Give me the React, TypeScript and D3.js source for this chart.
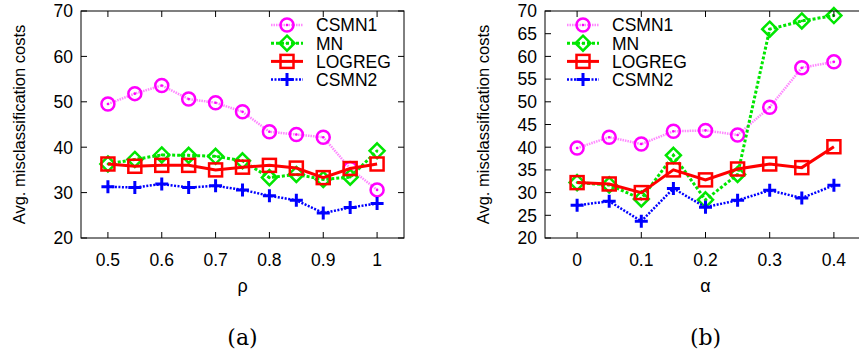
import React from 'react';
import * as d3 from 'd3';

// panel (a): rho sweep
const rhoValues = [0.5, 0.55, 0.6, 0.65, 0.7, 0.75, 0.8, 0.85, 0.9, 0.95, 1.0];
const rhoCSMN1 = [49.5, 51.8, 53.6, 50.6, 49.8, 47.8, 43.4, 42.8, 42.2, 35.3, 30.6];
const rhoMN = [36.3, 37.3, 38.3, 38.2, 38.0, 37.0, 33.3, 34.0, 32.9, 33.4, 39.2];
const rhoLOGREG = [36.3, 35.8, 36.0, 36.0, 35.0, 35.6, 36.0, 35.4, 33.3, 35.3, 36.3];
const rhoCSMN2 = [31.3, 31.1, 31.9, 31.1, 31.5, 30.6, 29.3, 28.3, 25.5, 26.7, 27.6];
const rhoTicks = [0.5, 0.6, 0.7, 0.8, 0.9, 1];

// panel (b): alpha sweep
const alphaValues = [0, 0.05, 0.1, 0.15, 0.2, 0.25, 0.3, 0.35, 0.4];
const alphaCSMN1 = [39.8, 42.2, 40.7, 43.5, 43.7, 42.7, 48.8, 57.5, 58.8];
const alphaMN = [32.2, 31.7, 28.6, 38.2, 28.4, 34.0, 66.0, 67.8, 69.0];
const alphaLOGREG = [32.2, 31.9, 30.0, 35.0, 32.8, 35.2, 36.3, 35.5, 40.1];
const alphaCSMN2 = [27.2, 28.1, 23.7, 30.9, 26.8, 28.3, 30.5, 28.8, 31.6];
const alphaTicks = [0, 0.1, 0.2, 0.3, 0.4];

const seriesNames = ['CSMN1', 'MN', 'LOGREG', 'CSMN2'];

const styles: Record<string, any> = {
  CSMN1: { color: '#ff00ff', line: '#ff88ff', width: 2.5, dash: '1.5,1', marker: 'circle' },
  MN: { color: '#00e600', line: '#00e600', width: 3, dash: '3,2', marker: 'diamond' },
  LOGREG: { color: '#ff0000', line: '#ff0000', width: 3, dash: null, marker: 'square' },
  CSMN2: { color: '#0000ff', line: '#0000ff', width: 2.5, dash: '2,1.5', marker: 'plus' },
};

const FONT = '"Liberation Sans", Arial, sans-serif';

function Marker({ kind, x, y, color }: any) {
  if (kind === 'circle') {
    return (
      <g>
        <circle cx={x} cy={y} r={6.5} fill="none" stroke={color} strokeWidth={2.5} />
        <circle cx={x} cy={y} r={1.3} fill={color} />
      </g>
    );
  }
  if (kind === 'diamond') {
    const s = 7.5;
    return (
      <g>
        <path d={`M${x},${y - s}L${x + s},${y}L${x},${y + s}L${x - s},${y}Z`} fill="none" stroke={color} strokeWidth={2.5} />
        <circle cx={x} cy={y} r={1.3} fill={color} />
      </g>
    );
  }
  if (kind === 'square') {
    const s = 6.5;
    return <rect x={x - s} y={y - s} width={2 * s} height={2 * s} fill="none" stroke={color} strokeWidth={2.5} />;
  }
  const s = 6.5;
  return <path d={`M${x - s},${y}H${x + s}M${x},${y - s}V${y + s}`} stroke={color} strokeWidth={3} />;
}

function Panel({ left, right, top, bottom, xDomain, xs, data, xTicks, yTicks, xLabel, caption, legendX, yLabelX }: any) {
  const x = d3.scaleLinear().domain(xDomain).range([left, right]);
  const y = d3.scaleLinear().domain([20, 70]).range([bottom, top]);
  const tick = 6;
  return (
    <g>
      {seriesNames.map((name, si) => {
        const st = styles[name];
        const vals: number[] = data[si];
        const pts = vals.map((v, i) => [x(xs[i]), y(v)] as [number, number]);
        const line = d3.line()(pts) || '';
        return (
          <g key={name}>
            <path d={line} fill="none" stroke={st.line} strokeWidth={st.width} strokeDasharray={st.dash || undefined} />
            {pts.map((p, i) => (
              <Marker key={i} kind={st.marker} x={p[0]} y={p[1]} color={st.color} />
            ))}
          </g>
        );
      })}
      <rect x={left} y={top} width={right - left} height={bottom - top} fill="none" stroke="#000" strokeWidth={1} />
      {yTicks.map((t: number) => (
        <g key={'y' + t}>
          <line x1={left} x2={left + tick} y1={y(t)} y2={y(t)} stroke="#000" />
          <line x1={right} x2={right - tick} y1={y(t)} y2={y(t)} stroke="#000" />
          <text x={left - 8} y={y(t)} dy="0.36em" textAnchor="end" fontFamily={FONT} fontSize={17.5} fill="#000">
            {t}
          </text>
        </g>
      ))}
      {xTicks.map((t: number) => (
        <g key={'x' + t}>
          <line x1={x(t)} x2={x(t)} y1={bottom} y2={bottom - tick} stroke="#000" />
          <line x1={x(t)} x2={x(t)} y1={top} y2={top + tick} stroke="#000" />
          <text x={x(t)} y={bottom + 28} textAnchor="middle" fontFamily={FONT} fontSize={17.5} fill="#000">
            {t}
          </text>
        </g>
      ))}
      <text
        transform={`translate(${yLabelX},${(top + bottom) / 2}) rotate(-90)`}
        textAnchor="middle"
        dy="0.36em"
        fontFamily={FONT}
        fontSize={16.5}
        fill="#000"
      >
        Avg. misclassification costs
      </text>
      <text x={x((xDomain[0] + xDomain[1]) / 2)} y={bottom + 54} textAnchor="middle" fontFamily={FONT} fontSize={18} fill="#000">
        {xLabel}
      </text>
      <text x={x((xDomain[0] + xDomain[1]) / 2)} y={345} textAnchor="middle" fontFamily='"DejaVu Serif", serif' fontSize={22} fill="#000">
        {caption}
      </text>
      {seriesNames.map((name, i) => {
        const st = styles[name];
        const ly = 25 + i * 18.2;
        return (
          <g key={'lg' + name}>
            <line x1={legendX} x2={legendX + 32} y1={ly} y2={ly} stroke={st.line} strokeWidth={st.width} strokeDasharray={st.dash || undefined} />
            <Marker kind={st.marker} x={legendX + 16} y={ly} color={st.color} />
            <text x={legendX + 45} y={ly} dy="0.36em" fontFamily={FONT} fontSize={17.5} fill="#000">
              {name}
            </text>
          </g>
        );
      })}
    </g>
  );
}

export default function App() {
  return (
    <svg width={859} height={354} style={{ position: 'absolute', left: 0, top: 0, background: '#fff' }}>
      <Panel
        left={81}
        right={404}
        top={11}
        bottom={238}
        xDomain={[0.45, 1.05]}
        xs={rhoValues}
        data={[rhoCSMN1, rhoMN, rhoLOGREG, rhoCSMN2]}
        xTicks={rhoTicks}
        yTicks={d3.range(20, 71, 10)}
        xLabel="ρ"
        caption="(a)"
        legendX={271}
        yLabelX={19}
      />
      <Panel
        left={545}
        right={866}
        top={11}
        bottom={238}
        xDomain={[-0.05, 0.45]}
        xs={alphaValues}
        data={[alphaCSMN1, alphaMN, alphaLOGREG, alphaCSMN2]}
        xTicks={alphaTicks}
        yTicks={d3.range(20, 71, 5)}
        xLabel="α"
        caption="(b)"
        legendX={567}
        yLabelX={483}
      />
    </svg>
  );
}
